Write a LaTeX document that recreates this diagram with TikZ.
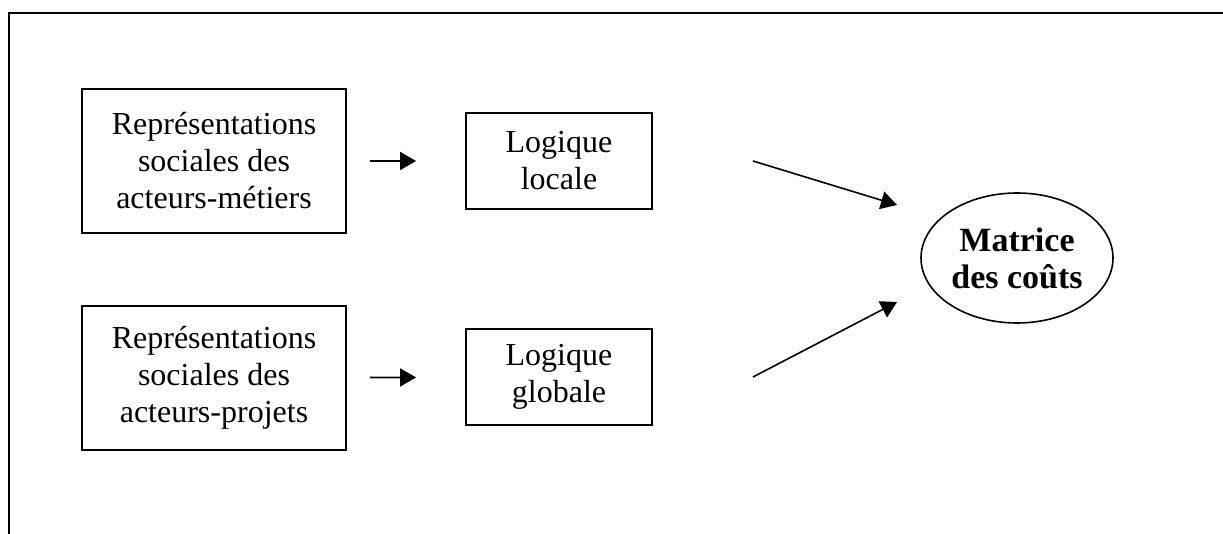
\documentclass[tikz,border=0pt]{standalone}
\usepackage{fontspec}
\setmainfont{Liberation Serif}
\usepackage{tikz}
\usetikzlibrary{arrows.meta,shapes.geometric}
\tikzset{
  repbox/.style={draw,line width=0.9pt,align=center,minimum width=132pt,minimum height=72pt,inner sep=0pt,font=\fontsize{16}{18.5}\selectfont},
  logbox/.style={draw,line width=0.9pt,align=center,minimum width=93pt,minimum height=48pt,inner sep=0pt,font=\fontsize{16}{18.5}\selectfont},
  matrix ellipse/.style={draw,ellipse,line width=0.8pt,align=center,minimum width=96pt,minimum height=65pt,inner sep=0pt,font=\bfseries\fontsize{17}{18.5}\selectfont},
  flow/.style={-{Triangle[length=8pt,width=9pt]},line width=0.8pt}
}

\begin{document}
\begin{tikzpicture}[x=0.5pt,y=-0.5pt]
  \useasboundingbox (0,0) rectangle (1223,534);
  % Frame (open at right and bottom)
  \draw[line width=1pt] (1223,13) -- (9,13) -- (9,534);
  % Representations
  \node[repbox] (repmet) at (214,161) {Représentations\\sociales des\\acteurs-métiers};
  \node[repbox] (repproj) at (214,378) {Représentations\\sociales des\\acteurs-projets};
  % Logics
  \node[logbox] (loglocal) at (559,161) {Logique\\locale};
  \node[logbox] (logglobal) at (559,377) {Logique\\globale};
  % Cost matrix
  \node[matrix ellipse] (matrice) at (1017,258) {Matrice\\des coûts};
  % Arrows
  \draw[flow,shorten <=11.5pt,shorten >=24.5pt] (repmet) -- (loglocal);
  \draw[flow,shorten <=11.5pt,shorten >=24.5pt] (repproj) -- (logglobal);
  \coordinate (localout) at (753,161);
  \coordinate (matinup) at (897,205);
  \coordinate (globalout) at (753,377);
  \coordinate (matindown) at (897,302);
  \draw[flow] (localout) -- (matinup);
  \draw[flow] (globalout) -- (matindown);
\end{tikzpicture}
\end{document}
